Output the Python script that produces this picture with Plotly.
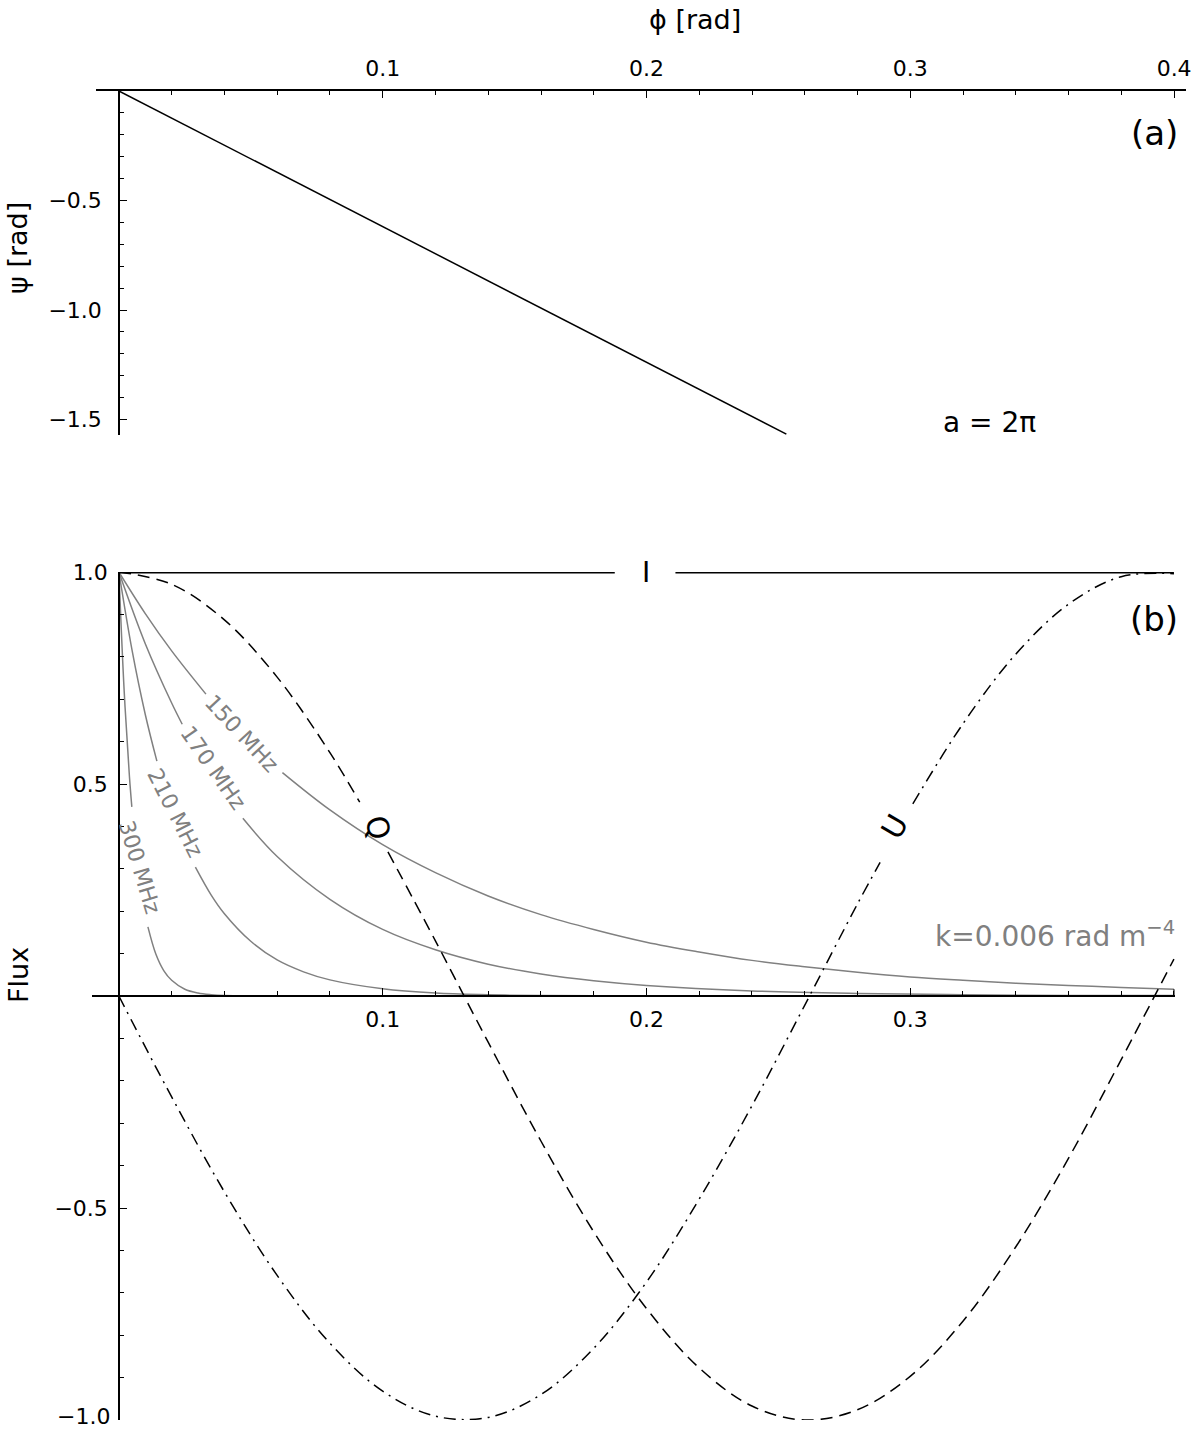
import plotly.graph_objects as go

# ---------------- data ----------------
# panel (a): psi vs phi
phi_a = [0.0, 0.253]
psi_a = [0.0, -1.567]

# panel (b)
phi_I = [0.0, 0.188, None, 0.211, 0.400]
flux_I = [1.0, 1.0, None, 1.0, 1.0]

phi_Q = [0.0, 0.02, 0.04, 0.06, 0.08, 0.0913, None, 0.102, 0.12, 0.14, 0.16, 0.18, 0.20,
         0.22, 0.24, 0.26, 0.28, 0.30, 0.32, 0.34, 0.36, 0.38, 0.40]
flux_Q = [1.0, 0.971, 0.887, 0.752, 0.574, 0.457, None, 0.340, 0.130, -0.109, -0.342, -0.556, -0.737,
          -0.877, -0.967, -1.000, -0.976, -0.897, -0.767, -0.592, -0.383, -0.150, 0.087]

phi_U = [0.0, 0.02, 0.04, 0.06, 0.08, 0.10, 0.12, 0.14, 0.16, 0.18, 0.20, 0.22, 0.24,
         0.26, 0.28, 0.2886, None, 0.301, 0.32, 0.34, 0.36, 0.38, 0.40]
flux_U = [0.0, -0.238, -0.462, -0.659, -0.819, -0.932, -0.991, -0.994, -0.940, -0.831, -0.675, -0.479, -0.259,
          -0.022, 0.217, 0.315, None, 0.453, 0.642, 0.806, 0.924, 0.989, 0.996]

phi_150 = [0.0, 0.01, 0.02, 0.033, None, 0.062, 0.08, 0.10, 0.12, 0.14, 0.16, 0.18, 0.20, 0.22,
           0.24, 0.26, 0.28, 0.30, 0.32, 0.34, 0.36, 0.38, 0.40]
pol_150 = [1.0, 0.902, 0.814, 0.712, None, 0.527, 0.439, 0.357, 0.291, 0.236, 0.192, 0.157, 0.127, 0.104,
           0.084, 0.069, 0.056, 0.045, 0.037, 0.030, 0.025, 0.020, 0.016]

phi_170 = [0.0, 0.01, 0.02, 0.024, None, 0.047, 0.06, 0.08, 0.10, 0.12, 0.14, 0.16, 0.18, 0.20,
           0.24, 0.28, 0.32, 0.36, 0.40]
pol_170 = [1.0, 0.831, 0.691, 0.641, None, 0.419, 0.329, 0.228, 0.157, 0.109, 0.075, 0.052, 0.036, 0.025,
           0.012, 0.006, 0.003, 0.001, 0.001]

phi_210 = [0.0, 0.005, 0.01, 0.0144, None, 0.029, 0.035, 0.04, 0.05, 0.06, 0.07, 0.08, 0.10,
           0.12, 0.14, 0.16, 0.20, 0.30, 0.40]
pol_210 = [1.0, 0.815, 0.664, 0.554, None, 0.304, 0.238, 0.194, 0.129, 0.085, 0.057, 0.038, 0.017,
           0.007, 0.003, 0.001, 0.0, 0.0, 0.0]

phi_300 = [0.0, 0.002, 0.004, 0.0049, None, 0.011, 0.014, 0.017, 0.020, 0.025, 0.030, 0.035,
           0.040, 0.050, 0.10, 0.40]
pol_300 = [1.0, 0.719, 0.517, 0.446, None, 0.163, 0.099, 0.060, 0.037, 0.016, 0.007, 0.003,
           0.001, 0.0, 0.0, 0.0]

freq_labels = ["150 MHz", "170 MHz", "210 MHz", "300 MHz"]
freq_label_x = [0.0466, 0.0356, 0.0212, 0.0080]
freq_label_y = [0.620, 0.538, 0.432, 0.304]
freq_label_angle = [47, 55, 63, 73]

xtick_a = [0.1, 0.2, 0.3, 0.4]
xtick_b = [0.1, 0.2, 0.3]
ytick_a = [-0.5, -1.0, -1.5]
ytick_b = [1.0, 0.5, -0.5, -1.0]
ytext_b = ["1.0", "0.5", "\u22120.5", ""]   # the -1.0 label is drawn separately (kept inside the page)

# ---------------- layout geometry ----------------
W, H = 1200, 1430
FONT = "DejaVu Sans"
GRAY = "#808080"


def py(p):
    return 1 - p / H


fig = go.Figure()

fig.add_trace(go.Scatter(x=phi_a, y=psi_a, mode="lines", xaxis="x", yaxis="y",
                         line=dict(color="black", width=1.5), showlegend=False))

curves = [(phi_150, pol_150), (phi_170, pol_170), (phi_210, pol_210), (phi_300, pol_300)]
for xs, ys in curves:
    fig.add_trace(go.Scatter(x=xs, y=ys, mode="lines", xaxis="x2", yaxis="y2",
                             line=dict(color=GRAY, width=1.5, shape="spline"),
                             connectgaps=False, showlegend=False))

fig.add_trace(go.Scatter(x=phi_Q, y=flux_Q, mode="lines", xaxis="x2", yaxis="y2",
                         line=dict(color="black", width=1.5, dash="12px,7px", shape="spline"),
                         connectgaps=False, showlegend=False))
fig.add_trace(go.Scatter(x=phi_U, y=flux_U, mode="lines", xaxis="x2", yaxis="y2",
                         line=dict(color="black", width=1.5, dash="12px,6px,2px,6px", shape="spline"),
                         connectgaps=False, showlegend=False))
fig.add_trace(go.Scatter(x=phi_I, y=flux_I, mode="lines", xaxis="x2", yaxis="y2",
                         line=dict(color="black", width=3), connectgaps=False, showlegend=False))

ax_common = dict(showgrid=False, zeroline=False, showline=True, linecolor="black", linewidth=1.5,
                 ticks="inside", tickcolor="black", tickwidth=1.2, automargin=False,
                 ticklabeloverflow="allow",
                 tickfont=dict(family=FONT, size=22, color="black"))
minor_x = dict(tickmode="linear", tick0=0, dtick=0.02, ticklen=4, ticks="inside",
               tickcolor="black", tickwidth=1.2)
minor_y = dict(tickmode="linear", tick0=0, dtick=0.1, ticklen=4, ticks="inside",
               tickcolor="black", tickwidth=1.2)

fig.update_layout(
    template="none",
    width=W, height=H, margin=dict(l=0, r=0, t=0, b=0, pad=0), autosize=False,
    paper_bgcolor="white", plot_bgcolor="white",
    xaxis=dict(**ax_common, range=[-0.0087, 0.4045], domain=[96 / W, 1186 / W],
               anchor="y", side="top", tickmode="array", tickvals=xtick_a,
               ticktext=["0.1", "0.2", "0.3", "0.4"], ticklen=7, ticklabelstandoff=4,
               minor=minor_x),
    yaxis=dict(**ax_common, range=[-1.5708, 0], domain=[py(435), py(91)],
               anchor="free", position=119 / W, tickmode="array", tickvals=ytick_a,
               ticktext=["\u22120.5", "\u22121.0", "\u22121.5"], ticklen=7, ticklabelstandoff=12,
               minor=minor_y),
    xaxis2=dict(**ax_common, range=[-0.0102, 0.4004], domain=[92 / W, 1175 / W],
                anchor="free", position=py(996), side="bottom", tickmode="array", tickvals=xtick_b,
                ticktext=["0.1", "0.2", "0.3"], ticklen=7, ticklabelstandoff=4,
                minor=minor_x),
    yaxis2=dict(**ax_common, range=[-1, 1], domain=[py(1420), py(572)],
                anchor="free", position=119 / W, tickmode="array", tickvals=ytick_b,
                ticktext=ytext_b, ticklen=7, ticklabelstandoff=6,
                minor=minor_y),
)

# small closing segment at the right end of panel (b)
fig.add_shape(type="line", xref="x2", yref="y2", x0=0.4, x1=0.4, y0=0, y1=pol_150[-1],
              line=dict(color="black", width=1.2))

C = dict(xanchor="center", yanchor="middle", showarrow=False)
ann = []
ann.append(dict(text="\u22121.0", xref="paper", yref="y2", x=112 / W, y=ytick_b[-1],
                xanchor="right", yanchor="middle", yshift=4, showarrow=False,
                font=dict(family=FONT, size=22, color="black")))
ann.append(dict(text="\u03d5 [rad]", xref="paper", yref="paper", x=695 / W, y=py(20),
                font=dict(family=FONT, size=27, color="black"), **C))
ann.append(dict(text="\u03c8 [rad]", xref="paper", yref="paper", x=18 / W, y=py(248),
                textangle=-90, font=dict(family=FONT, size=27, color="black"), **C))
ann.append(dict(text="Flux", xref="paper", yref="paper", x=19 / W, y=py(975),
                textangle=-90, font=dict(family=FONT, size=27, color="black"), **C))
ann.append(dict(text="(a)", xref="x", yref="y", x=0.3924, y=-0.192,
                font=dict(family=FONT, size=34, color="black"), **C))
ann.append(dict(text="a = 2\u03c0", xref="x", yref="y", x=0.330, y=-1.516,
                font=dict(family=FONT, size=28, color="black"), **C))
ann.append(dict(text="(b)", xref="x2", yref="y2", x=0.3924, y=0.889,
                font=dict(family=FONT, size=34, color="black"), **C))
ann.append(dict(text="I", xref="x2", yref="y2", x=0.2, y=1.0,
                font=dict(family=FONT, size=28, color="black"), **C))
ann.append(dict(text="Q", xref="x2", yref="y2", x=0.0982, y=0.397, textangle=78,
                font=dict(family=FONT, size=30, color="black"), **C))
ann.append(dict(text="U", xref="x2", yref="y2", x=0.2942, y=0.399, textangle=-60,
                font=dict(family=FONT, size=30, color="black"), **C))
ann.append(dict(text="k=0.006 rad m<sup>\u22124</sup>", xref="x2", yref="y2", x=0.3086, y=0.145,
                xanchor="left", yanchor="middle", showarrow=False,
                font=dict(family=FONT, size=28, color=GRAY)))
for t, lx, ly, la in zip(freq_labels, freq_label_x, freq_label_y, freq_label_angle):
    ann.append(dict(text=t, xref="x2", yref="y2", x=lx, y=ly, textangle=la,
                    font=dict(family=FONT, size=22, color=GRAY), **C))

fig.update_layout(annotations=ann)

fig.write_html("out.html", config={"displayModeBar": False},
               post_script="document.body.style.margin='0px';")
